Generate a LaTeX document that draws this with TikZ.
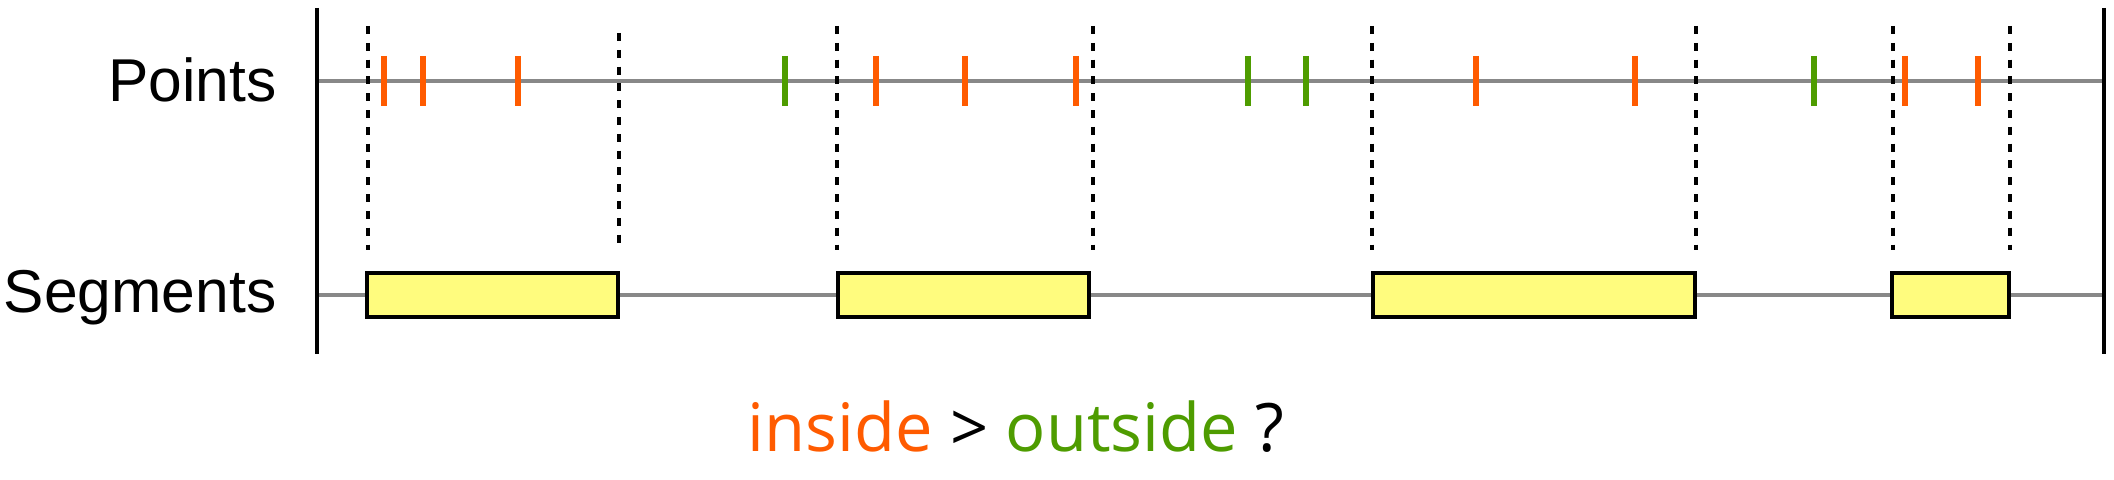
\documentclass[tikz,border=0pt]{standalone}
\usepackage{fontspec}
\setmainfont{Liberation Sans}
\newfontfamily\notefont{Open Sans}
\usetikzlibrary{positioning}
\definecolor{inorange}{RGB}{255,91,0}
\definecolor{outgreen}{RGB}{78,156,0}
\definecolor{axisgray}{RGB}{136,136,136}
\definecolor{segyellow}{RGB}{255,252,126}
\tikzset{
  axis/.style={draw=axisgray,line width=1.35pt},
  border/.style={draw=black,line width=1.35pt},
  inmark/.style={draw=inorange,line width=1.6pt},
  outmark/.style={draw=outgreen,line width=1.6pt},
  cutline/.style={draw=black,line width=1.35pt,dash pattern=on 0.08cm off 0.088cm},
  segbox/.style={draw=black,fill=segyellow,line width=1.35pt,inner sep=0pt,outer sep=0pt,anchor=north west},
  rowlabel/.style={anchor=base east,inner sep=0pt,font=\fontsize{17.2}{20}\selectfont}
}

\begin{document}
\begin{tikzpicture}[x=0.01cm,y=-0.01cm]
  \useasboundingbox (0,0) rectangle (2114,480);
  % Rows
  \node[rowlabel] (points) at (277,102) {Points};
  \node[rowlabel] (segments) at (277,313) {Segments};
  \coordinate (pl) at (317,81); \coordinate (pr) at (2104,81);
  \coordinate (sl) at (317,295); \coordinate (sr) at (2104,295);
  \draw[axis] (pl) -- (pr);
  \draw[axis] (sl) -- (sr);
  \draw[border] (317,8) -- (317,354);
  \draw[border] (2104,8) -- (2104,354);
  % Segments
  \foreach \a/\b [count=\k] in {367/618,838/1089,1373/1695,1892/2009}
    \node[segbox,minimum width={(\b-\a)*0.01cm},minimum height=0.44cm] (seg\k) at (\a,273) {};
  % Points
  \foreach \x in {384,423,518,876,965,1076,1476,1635,1905,1978}
    \draw[inmark] (\x,56) -- (\x,106);
  \foreach \x in {785,1248,1306,1814}
    \draw[outmark] (\x,56) -- (\x,106);
  % Segment ends
  \foreach \x/\t/\e in {368/26/250,619/33/243,837/26/250,1093/26/250,1372/26/250,1696/26/250,1893/26/250,2010/26/250}
    \draw[cutline] (\x,\t) -- (\x,\e);
  % Question
  \node[anchor=base,inner sep=0pt,font=\notefont\fontsize{19}{23}\selectfont] (question) at (1016,452)
    {\textcolor{inorange}{inside} > \textcolor{outgreen}{outside} ?};
\end{tikzpicture}
\end{document}
